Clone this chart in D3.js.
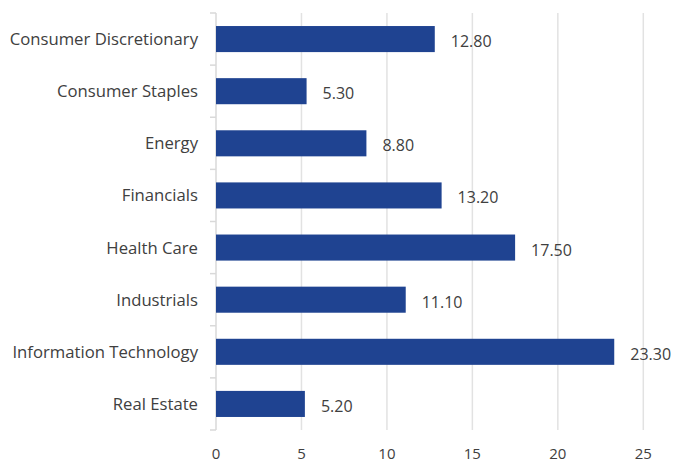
<!DOCTYPE html>
<html><head><meta charset="utf-8">
<script src="https://cdn.jsdelivr.net/npm/d3@7"></script>
<style>body{margin:0;background:#fff}svg{display:block}</style>
</head><body>
<script>
const categories = ["Consumer Discretionary","Consumer Staples","Energy","Financials","Health Care","Industrials","Information Technology","Real Estate"];
const values = [12.8, 5.3, 8.8, 13.2, 17.5, 11.1, 23.3, 5.2];
const tickValues = [0, 5, 10, 15, 20, 25];

const W = 673, H = 463;
const svg = d3.select("body").append("svg").attr("width", W).attr("height", H);
const x = d3.scaleLinear().domain([0, 25]).range([216, 643.3]);
const y = d3.scaleBand().domain(categories).range([13, 430]).paddingInner(0.5).paddingOuter(0.25);
const band = d3.scaleBand().domain(categories).range([13, 430]);
const font = "'Open Sans', 'Noto Sans', sans-serif";

// gridlines
svg.append("g").selectAll("line").data(tickValues.slice(1)).join("line")
  .attr("x1", d => x(d)).attr("x2", d => x(d)).attr("y1", 13).attr("y2", 430)
  .attr("stroke", "#e2e2e2").attr("stroke-width", 1.5);

// y axis line and ticks
svg.append("line").attr("x1", x(0)).attr("x2", x(0)).attr("y1", 13).attr("y2", 430)
  .attr("stroke", "#d9d9d9").attr("stroke-width", 1.5);
const bounds = categories.map(c => band(c)).concat([430]);
svg.append("g").selectAll("line").data(bounds).join("line")
  .attr("x1", x(0) - 6).attr("x2", x(0)).attr("y1", d => d).attr("y2", d => d)
  .attr("stroke", "#d9d9d9").attr("stroke-width", 1.5);

// bars
svg.append("g").selectAll("rect").data(categories).join("rect")
  .attr("x", x(0)).attr("y", d => y(d)).attr("width", (d, i) => x(values[i]) - x(0))
  .attr("height", y.bandwidth()).attr("fill", "#1f4391");

// value labels
svg.append("g").selectAll("text").data(categories).join("text")
  .attr("x", (d, i) => x(values[i]) + 16).attr("y", d => y(d) + y.bandwidth() / 2 + 8)
  .attr("font-family", font).attr("font-size", 16).attr("fill", "#404040")
  .text((d, i) => values[i].toFixed(2));

// category labels
svg.append("g").selectAll("text").data(categories).join("text")
  .attr("x", 198).attr("y", d => y(d) + y.bandwidth() / 2 + 6)
  .attr("text-anchor", "end").attr("font-family", font).attr("font-size", 16.7).attr("fill", "#404040")
  .text(d => d);

// x tick labels
svg.append("g").selectAll("text").data(tickValues).join("text")
  .attr("x", d => x(d)).attr("y", 459).attr("text-anchor", "middle")
  .attr("font-family", font).attr("font-size", 15).attr("fill", "#404040")
  .text(d => d);
</script>
</body></html>
